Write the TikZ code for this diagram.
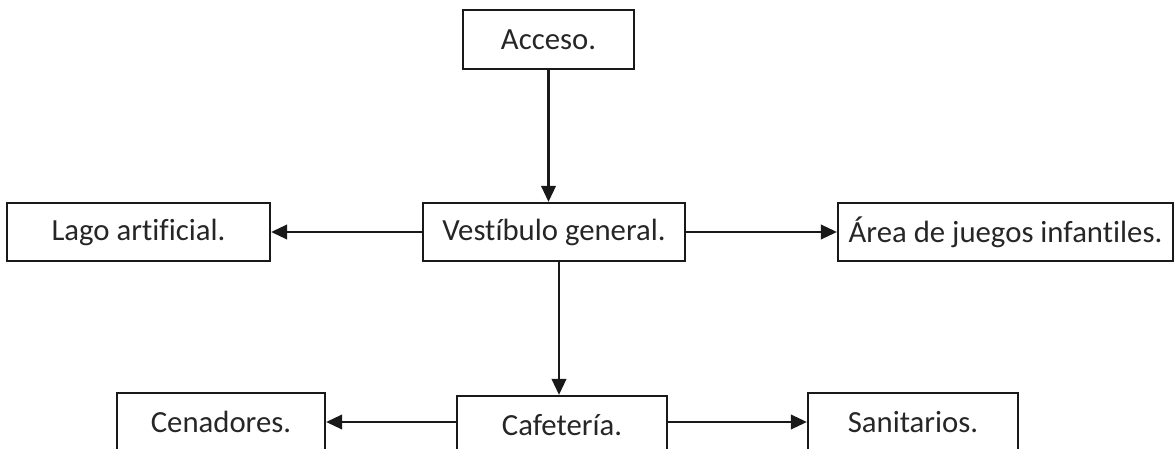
\documentclass[tikz,border=0pt]{standalone}
\usepackage{fontspec}
\setmainfont[Ligatures={NoCommon}]{Carlito}
\usetikzlibrary{arrows.meta}

\begin{document}
\begin{tikzpicture}[x=0.02cm,y=-0.02cm,
    area/.style={draw=black!90,line width=0.045cm,inner sep=0pt,
        font={\fontsize{17.5}{21}\selectfont},text=black!85},
    flow/.style={line width=0.045cm,draw=black!90,-{Triangle[length=0.32cm,width=0.29cm]}}]
\clip (0,0) rectangle (1175,449);
\useasboundingbox (0,0) rectangle (1175,449);

\node[area,minimum width=171*0.02cm,minimum height=59*0.02cm] (acc) at (548.5,39.5) {Acceso.};
\node[area,minimum width=262*0.02cm,minimum height=58*0.02cm] (ves) at (554,232) {Vestíbulo general.};
\node[area,minimum width=263*0.02cm,minimum height=58*0.02cm] (lago) at (138.5,232) {Lago artificial.};
\node[area,minimum width=335*0.02cm,minimum height=58*0.02cm] (juegos) at (1005.5,232) {Área de juegos infantiles.};

\node[area,minimum width=208*0.02cm,minimum height=58*0.02cm] (cen) at (221,422) {Cenadores.};
\node[area,minimum width=210*0.02cm,minimum height=58*0.02cm] (caf) at (562,425) {Cafetería.};
\node[area,minimum width=210*0.02cm,minimum height=58*0.02cm] (san) at (913,422) {Sanitarios.};

\draw[flow] (acc.south) -- (acc.south |- ves.north);
\draw[flow] (ves) -- (lago);
\draw[flow] (ves) -- (juegos);
\draw[flow] ([xshift=-3*0.02cm]caf.north |- ves.south) -- ([xshift=-3*0.02cm]caf.north);
\draw[flow] (caf.west |- cen.east) -- (cen.east);
\draw[flow] (caf.east |- san.west) -- (san.west);
\end{tikzpicture}
\end{document}
